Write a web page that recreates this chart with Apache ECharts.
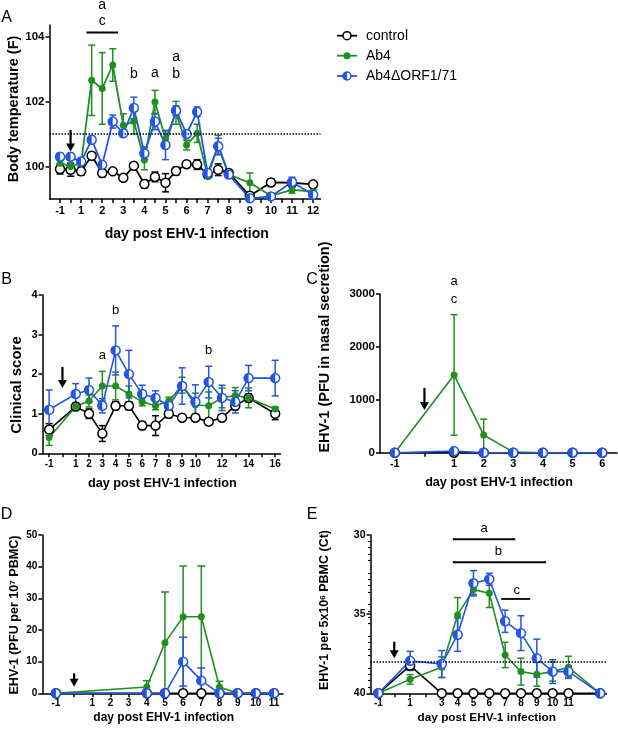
<!DOCTYPE html>
<html>
<head>
<meta charset="utf-8">
<script src="https://cdn.jsdelivr.net/npm/echarts@6/dist/echarts.min.js"></script>
<style>
html, body { margin: 0; padding: 0; background: #fff; }
#chart { width: 618px; height: 731px; }
</style>
</head>
<body>
<div id="chart"></div>
<script>
// ---- panel A : body temperature (twice daily until day 8) ----
var daysA = [-1, 0, 1, 1.5, 2, 2.5, 3, 3.5, 4, 4.5, 5, 5.5, 6, 6.5, 7, 7.5, 8, 9, 10, 11, 12];
var ctrlA = [99.92, 99.9, 99.85, 100.33, 99.8, 99.85, 99.65, 100.02, 99.46, 99.68, 99.5, 99.86, 100.07, 100.06, 99.75, 99.9, 99.8, 99.1, 99.51, 99.5, 99.45];
var ctrlErrA = [0.15, 0.2, 0.12, 0.1, 0.12, 0.08, 0.05, 0.08, 0.12, 0.15, 0.28, 0.12, 0.06, 0.15, 0.1, 0.18, 0.08, 0.1, 0.1, 0.06, 0.05];
var ab4A = [100.1, 100.0, 100.1, 102.65, 102.4, 103.12, 101.27, 101.38, 100.2, 101.98, 100.85, 101.65, 100.66, 101.02, 99.7, 100.66, 99.75, 99.5, 99.1, 99.28, 99.23];
var ab4ErrA = [0.1, 0.2, 0.1, 1.08, 1.1, 0.5, 0.35, 0.38, 0.3, 0.36, 0.25, 0.35, 0.15, 0.28, 0.05, 0.3, 0.1, 0.3, 0.05, 0.1, 0.06];
var orfA = [100.3, 100.3, 100.15, 100.82, 100.05, 101.38, 101.02, 101.8, 100.4, 101.38, 100.66, 101.72, 101.0, 101.68, 99.8, 100.62, 99.75, 99.02, 99.08, 99.52, 99.13];
var orfErrA = [0.1, 0.1, 0.1, 0.1, 0.05, 0.2, 0.1, 0.33, 0.2, 0.25, 0.45, 0.15, 0.1, 0.15, 0.05, 0.25, 0.05, 0.05, 0.05, 0.15, 0.05];
var tickDaysA = [-1, 0, 1, 1.5, 2, 2.5, 3, 3.5, 4, 4.5, 5, 5.5, 6, 6.5, 7, 7.5, 8, 8.5, 9, 9.5, 10, 10.5, 11, 11.5, 12];
var labelDaysA = [-1, 1, 2, 3, 4, 5, 6, 7, 8, 9, 10, 11, 12];
var yTicksA = [100, 102, 104];

// ---- panel B : clinical score ----
var daysB = [-1, 1, 2, 3, 4, 5, 6, 7, 8, 9, 10, 11, 12, 13, 14, 16];
var ctrlB = [0.6, 1.18, 1.0, 0.5, 1.2, 1.2, 0.7, 0.7, 1.0, 0.9, 0.9, 0.8, 0.9, 1.2, 1.4, 1.0];
var ctrlErrB = [0.15, 0.08, 0.12, 0.2, 0.1, 0.1, 0.1, 0.25, 0.1, 0.07, 0.08, 0.08, 0.07, 0.1, 0.1, 0.15];
var ab4B = [0.4, 1.18, 1.32, 1.7, 1.7, 1.5, 1.3, 1.2, 1.32, 1.72, 1.22, 1.2, 1.4, 1.46, 1.4, 1.12];
var ab4ErrB = [0.2, 0.1, 0.15, 0.37, 0.35, 0.2, 0.1, 0.1, 0.1, 0.2, 0.3, 0.35, 0.25, 0.2, 0.25, 0.05];
var orfB = [1.1, 1.5, 1.6, 1.2, 2.6, 2.0, 1.5, 1.4, 1.2, 1.7, 1.3, 1.8, 1.4, 1.3, 1.9, 1.9];
var orfErrB = [0.5, 0.26, 0.3, 0.18, 0.62, 0.6, 0.22, 0.18, 0.1, 0.46, 0.43, 0.4, 0.32, 0.28, 0.32, 0.45];
var xTicksB = [-1, 0, 1, 2, 3, 4, 5, 6, 7, 8, 9, 10, 11, 12, 13, 14, 15, 16];
var xLabelsB = [-1, 1, 2, 3, 4, 5, 6, 7, 8, 9, 10, 12, 14, 16];
var yTicksB = [0, 1, 2, 3, 4];

// ---- panel C : virus in nasal secretion ----
var daysC = [-1, 1, 2, 3, 4, 5, 6];
var ctrlC = [0, 0, 0, 0, 0, 0, 0];
var ctrlErrC = [0, 0, 0, 0, 0, 0, 0];
var ab4C = [0, 1470, 335, 10, 0, 0, 0];
var ab4ErrC = [0, 1140, 300, 0, 0, 0, 0];
var orfC = [0, 30, 0, 0, 0, 0, 0];
var orfErrC = [0, 0, 0, 0, 0, 0, 0];
var xTicksC = [-1, 0, 1, 2, 3, 4, 5, 6];
var xLabelsC = [-1, 1, 2, 3, 4, 5, 6];
var yTicksC = [0, 1000, 2000, 3000];

// ---- panel D : virus in PBMC (PFU) ----
var daysD = [-1, 4, 5, 6, 7, 8, 9, 10, 11];
var ctrlD = [0, 0, 0, 0, 0, 0, 0, 0, 0];
var ctrlErrD = [0, 0, 0, 0, 0, 0, 0, 0, 0];
var ab4D = [0, 2, 16, 24.2, 24.2, 2, 0, 0, 0];
var ab4UpD = [0, 2, 16, 16, 16, 1.8, 0, 0, 0];
var ab4DownD = [0, 2, 16, 24.2, 24.2, 1.8, 0, 0, 0];
var orfD = [0, 0, 0, 10, 4, 0, 0, 0, 0];
var orfErrD = [0, 0, 0, 7.7, 4, 0, 0, 0, 0];
var xTicksD = [-1, 0, 1, 2, 3, 4, 5, 6, 7, 8, 9, 10, 11];
var xLabelsD = [-1, 1, 2, 3, 4, 5, 6, 7, 8, 9, 10, 11];
var yTicksD = [0, 10, 20, 30, 40, 50];

// ---- panel E : virus in PBMC (Ct) ----
var daysE = [-1, 1, 3, 4, 5, 6, 7, 8, 9, 10, 11, 13];
var ctrlE = [40, 38.25, 40, 40, 40, 40, 40, 40, 40, 40, 40, 40];
var ctrlErrE = [0, 0.3, 0, 0, 0, 0, 0, 0, 0, 0, 0, 0];
var ab4E = [40, 39.12, 38.35, 35.05, 33.45, 33.68, 37.58, 38.63, 38.8, 38.63, 38.36, 40];
var ab4ErrE = [0, 0.3, 0.65, 1.1, 0.3, 0.9, 0.8, 0.85, 0.75, 0.6, 0.7, 0];
var orfE = [40, 37.95, 38.15, 36.3, 33.05, 32.8, 35.45, 36.2, 37.78, 38.63, 38.63, 40];
var orfErrE = [0, 0.6, 0.85, 1.05, 0.8, 0.38, 0.7, 1.1, 1.2, 0.75, 0.35, 0];
var xTicksE = [-1, 0, 1, 2, 3, 4, 5, 6, 7, 8, 9, 10, 11];
var xLabelsE = [-1, 1, 3, 4, 5, 6, 7, 8, 9, 10, 11];
var yTicksE = [30, 35, 40];

// ---- annotations (letters, bars, infection arrows) in axis units ----
var lettersA = [['a', 2, 104.96], ['c', 2, 104.48], ['b', 3.5, 102.84], ['a', 4.5, 102.88], ['a', 5.5, 103.37], ['b', 5.5, 102.84]];
var barsA = [[1.25, 2.75, 104.12]];
var lettersB = [['a', 3, 2.48], ['b', 4, 3.62], ['b', 11, 2.59]];
var lettersC = [['a', 1, 3233], ['c', 1, 2892]];
var lettersE = [['a', 5.68, 29.58], ['b', 6.58, 31.05], ['c', 7.74, 33.47]];
var barsE = [[3.7, 7.64, 30.27], [3.7, 9.59, 31.72], [6.75, 8.58, 34.04]];
var arrowA = [0, 101.12, 100.46];
var arrowB = [0, 2.18, 1.65];
var arrowC = [0, 1225, 808];
var arrowD = [0, 6.3, 2.1];
var arrowE = [0, 36.74, 37.79];

var BLACK = '#000', GREEN = '#1f8f1f', BLUE = '#2454e6';
var FONT = '"Liberation Sans", Arial, Helvetica, sans-serif';

// panel A uses half-day slots up to day 8, whole days after
function posA(d) { return d <= 1 ? d + 1 : 2 * d; }
var labelOfSlotA = {};
labelDaysA.forEach(function (d) { labelOfSlotA[posA(d)] = String(d); });

var grids = [
    {left: 49.5, top: 25, width: 271, height: 174},
    {left: 42.5, top: 295, width: 238, height: 158.3},
    {left: 380, top: 294, width: 237, height: 158.7},
    {left: 42.3, top: 535, width: 240.8, height: 158.3},
    {left: 370.5, top: 535, width: 236, height: 158.3}
];
grids.forEach(function (g) { g.containLabel = false; g.outerBoundsMode = 'none'; });

function plain(v) { return String(v); }

function axis(dim, gi, min, max, ticks, labels, fs, extra) {
    var a = {
        type: 'value', gridIndex: gi, min: min, max: max,
        axisLine: {show: true, onZero: false, lineStyle: {color: BLACK, width: 1.5}},
        axisTick: {show: true, length: 4, lineStyle: {color: BLACK, width: 1.5}, customValues: ticks},
        axisLabel: {customValues: labels, formatter: plain, color: BLACK, fontFamily: FONT, fontWeight: 'bold', fontSize: fs, margin: dim === 'x' ? 6 : 5},
        splitLine: {show: false}
    };
    if (extra) {
        for (var k in extra) {
            if (k === 'axisLabel') { for (var j in extra[k]) a.axisLabel[j] = extra[k][j]; }
            else a[k] = extra[k];
        }
    }
    return a;
}

var xAxes = [
    axis('x', 0, -1, 24.7, tickDaysA.map(posA), labelDaysA.map(posA), 11,
        {axisLabel: {formatter: function (v) { return labelOfSlotA[v] || ''; }}}),
    axis('x', 1, -1.5, 16.4, xTicksB, xLabelsB, 10),
    axis('x', 2, -1.5, 6.5, xTicksC, xLabelsC, 11),
    axis('x', 3, -1.75, 11.5, xTicksD, xLabelsD, 10, {axisLabel: {margin: 5}}),
    axis('x', 4, -1.5, 13.4, xTicksE, xLabelsE, 10, {axisLabel: {margin: 5}})
];
var yAxes = [
    axis('y', 0, 99, 104.35, yTicksA, yTicksA, 11.5),
    axis('y', 1, 0, 4, yTicksB, yTicksB, 11),
    axis('y', 2, 0, 3000, yTicksC, yTicksC, 11.5),
    axis('y', 3, 0, 50, yTicksD, yTicksD, 10),
    axis('y', 4, 30, 40, yTicksE, yTicksE, 10.5,
        {inverse: true, minorTick: {show: true, splitNumber: 5, length: 2.5, lineStyle: {color: BLACK, width: 1.2}}})
];

var series = [];

function errorBars(gi, xs, ys, up, dn, color, cap) {
    series.push({
        type: 'custom', xAxisIndex: gi, yAxisIndex: gi, silent: true, animation: false,
        encode: {x: 0, y: [1, 2]},
        data: xs.map(function (x, i) { return [x, ys[i] - dn[i], ys[i] + up[i]]; }),
        renderItem: function (params, api) {
            var lo = api.value(1), hi = api.value(2);
            if (!(hi - lo > 0)) return {type: 'group', children: []};
            var a = api.coord([api.value(0), hi]), b = api.coord([api.value(0), lo]);
            var h = cap / 2, st = {stroke: color, lineWidth: 1.5};
            return {type: 'group', children: [
                {type: 'line', shape: {x1: a[0], y1: a[1], x2: b[0], y2: b[1]}, style: st},
                {type: 'line', shape: {x1: a[0] - h, y1: a[1], x2: a[0] + h, y2: a[1]}, style: st},
                {type: 'line', shape: {x1: b[0] - h, y1: b[1], x2: b[0] + h, y2: b[1]}, style: st}
            ]};
        }
    });
}

function group(gi, xs, ys, up, dn, kind, lw, cap) {
    var color = kind === 'ctrl' ? BLACK : kind === 'ab4' ? GREEN : BLUE;
    errorBars(gi, xs, ys, up, dn, color, cap);
    var pts = xs.map(function (x, i) { return [x, ys[i]]; });
    series.push({
        type: 'line', xAxisIndex: gi, yAxisIndex: gi, silent: true, animation: false,
        data: pts, symbol: 'circle', symbolSize: kind === 'ab4' ? 7 : 9, showAllSymbol: true,
        lineStyle: {color: color, width: lw},
        itemStyle: {color: kind === 'ab4' ? color : '#fff', borderColor: color, borderWidth: kind === 'ab4' ? 0 : 1.5},
        emphasis: {disabled: true}
    });
    if (kind === 'orf') {
        // left half of the marker filled
        series.push({
            type: 'custom', xAxisIndex: gi, yAxisIndex: gi, silent: true, animation: false, z: 5,
            data: pts,
            renderItem: function (params, api) {
                var c = api.coord([api.value(0), api.value(1)]);
                return {type: 'sector', shape: {cx: c[0], cy: c[1], r0: 0, r: 4.5, startAngle: Math.PI / 2, endAngle: Math.PI * 1.5, clockwise: true},
                    style: {fill: color}};
            }
        });
    }
}

function letters(gi, list, mapX, fs) {
    series.push({
        type: 'custom', xAxisIndex: gi, yAxisIndex: gi, silent: true, animation: false,
        data: list.map(function (l) { return [mapX(l[1]), l[2]]; }),
        renderItem: function (params, api) {
            var c = api.coord([api.value(0), api.value(1)]);
            return {type: 'text', x: c[0], y: c[1], style: {
                text: list[params.dataIndex][0], font: fs + 'px ' + FONT, fill: BLACK, align: 'center', verticalAlign: 'middle'}};
        }
    });
}

function hbars(gi, list, mapX) {
    series.push({
        type: 'custom', xAxisIndex: gi, yAxisIndex: gi, silent: true, animation: false,
        data: list.map(function (b) { return [mapX(b[0]), mapX(b[1]), b[2]]; }),
        renderItem: function (params, api) {
            var a = api.coord([api.value(0), api.value(2)]), b = api.coord([api.value(1), api.value(2)]);
            return {type: 'line', shape: {x1: a[0], y1: a[1], x2: b[0], y2: b[1]}, style: {stroke: BLACK, lineWidth: 1.8}};
        }
    });
}

function arrow(gi, ar, mapX) {
    series.push({
        type: 'custom', xAxisIndex: gi, yAxisIndex: gi, silent: true, animation: false,
        data: [[mapX(ar[0]), ar[1], ar[2]]],
        renderItem: function (params, api) {
            var t = api.coord([api.value(0), api.value(1)]), b = api.coord([api.value(0), api.value(2)]);
            var hh = 8, hw = 4.5;
            return {type: 'group', children: [
                {type: 'line', shape: {x1: t[0], y1: t[1], x2: b[0], y2: b[1] - hh + 1}, style: {stroke: BLACK, lineWidth: 2.2}},
                {type: 'polygon', shape: {points: [[b[0] - hw, b[1] - hh], [b[0] + hw, b[1] - hh], [b[0], b[1]]]}, style: {fill: BLACK}}
            ]};
        }
    });
}

function same(x) { return x; }

// A
var xsA = daysA.map(posA);
group(0, xsA, ctrlA, ctrlErrA, ctrlErrA, 'ctrl', 1.8, 7);
group(0, xsA, ab4A, ab4ErrA, ab4ErrA, 'ab4', 1.8, 7);
group(0, xsA, orfA, orfErrA, orfErrA, 'orf', 1.8, 7);
series[series.length - 2].markLine = {
    silent: true, symbol: ['none', 'none'], label: {show: false}, animation: false,
    lineStyle: {type: 'dotted', color: BLACK, width: 1.5}, data: [{yAxis: 101}]
};
letters(0, lettersA, posA, 14);
hbars(0, barsA, posA);
arrow(0, arrowA, posA);

// B
group(1, daysB, ctrlB, ctrlErrB, ctrlErrB, 'ctrl', 1.6, 7);
group(1, daysB, ab4B, ab4ErrB, ab4ErrB, 'ab4', 1.6, 7);
group(1, daysB, orfB, orfErrB, orfErrB, 'orf', 1.6, 7);
letters(1, lettersB, same, 13);
arrow(1, arrowB, same);

// C
group(2, daysC, ctrlC, ctrlErrC, ctrlErrC, 'ctrl', 1.6, 7);
group(2, daysC, ab4C, ab4ErrC, ab4ErrC, 'ab4', 1.6, 7);
group(2, daysC, orfC, orfErrC, orfErrC, 'orf', 1.6, 7);
letters(2, lettersC, same, 13);
arrow(2, arrowC, same);

// D
group(3, daysD, ctrlD, ctrlErrD, ctrlErrD, 'ctrl', 1.6, 8);
group(3, daysD, ab4D, ab4UpD, ab4DownD, 'ab4', 1.6, 8);
group(3, daysD, orfD, orfErrD, orfErrD, 'orf', 1.6, 8);
arrow(3, arrowD, same);

// E
group(4, daysE, ctrlE, ctrlErrE, ctrlErrE, 'ctrl', 1.6, 7);
group(4, daysE, ab4E, ab4ErrE, ab4ErrE, 'ab4', 1.6, 7);
group(4, daysE, orfE, orfErrE, orfErrE, 'orf', 1.6, 7);
series[series.length - 2].markLine = {
    silent: true, symbol: ['none', 'none'], label: {show: false}, animation: false,
    lineStyle: {type: 'dotted', color: BLACK, width: 1.5}, data: [{yAxis: 38}]
};
letters(4, lettersE, same, 13);
hbars(4, barsE, same);
arrow(4, arrowE, same);

// titles, panel letters, legend
function txt(s, x, y, fs, bold, rot, rich) {
    var o = {type: 'text', x: x, y: y, rotation: rot ? Math.PI / 2 : 0, silent: true,
        style: {text: s, font: (bold ? 'bold ' : '') + fs + 'px ' + FONT, fill: BLACK, align: 'center', verticalAlign: 'middle'}};
    if (rich) o.style.rich = rich;
    return o;
}
var supRich = {sup: {fontSize: 8, fontWeight: 'bold', fontFamily: FONT, verticalAlign: 'top', lineHeight: 10}};
var graphics = [
    txt('A', 6.5, 18, 16, false), txt('B', 6.5, 280, 16, false), txt('C', 312, 280, 16, false),
    txt('D', 6.5, 515, 16, false), txt('E', 312, 515, 16, false),
    txt('Body temperature (F)', 13.5, 109, 14.5, true, true),
    txt('day post EHV-1 infection', 186.7, 234, 14, true),
    txt('Clinical score', 16.5, 385, 15, true, true),
    txt('day post EHV-1 infection', 162.3, 483, 12.7, true),
    txt('EHV-1 (PFU in nasal secretion)', 325, 347, 14.5, true, true),
    txt('day post EHV-1 infection', 499, 483, 12.6, true),
    txt('EHV-1 (PFU per 10{sup|7} PBMC)', 15, 615, 12.6, true, true, supRich),
    txt('day post EHV-1 infection', 163.7, 718, 12, true),
    txt('EHV-1 per 5x10{sup|6} PBMC (Ct)', 325, 610, 12.5, true, true, supRich),
    txt('day post EHV-1 infection', 486.7, 718, 11.8, true)
];
var legendNames = ['control', 'Ab4', 'Ab4ΔORF1/71'];
var legendColors = [BLACK, GREEN, BLUE];
var legendY = [35.7, 55.7, 76];
legendNames.forEach(function (n, i) {
    var y = legendY[i], c = legendColors[i];
    graphics.push({type: 'line', silent: true, shape: {x1: 337, y1: y, x2: 357, y2: y}, style: {stroke: c, lineWidth: 1.8}});
    if (i === 1) {
        graphics.push({type: 'circle', silent: true, shape: {cx: 347, cy: y, r: 3.5}, style: {fill: c}});
    } else {
        graphics.push({type: 'circle', silent: true, shape: {cx: 347, cy: y, r: 4}, style: {fill: '#fff', stroke: c, lineWidth: 1.5}});
        if (i === 2) graphics.push({type: 'sector', silent: true, shape: {cx: 347, cy: y, r0: 0, r: 4, startAngle: Math.PI / 2, endAngle: Math.PI * 1.5, clockwise: true}, style: {fill: c}});
    }
    graphics.push({type: 'text', x: 366, y: y, silent: true,
        style: {text: n, font: '14px ' + FONT, fill: BLACK, align: 'left', verticalAlign: 'middle'}});
});

var chart = echarts.init(document.getElementById('chart'), null, {renderer: 'canvas'});
chart.setOption({
    animation: false,
    backgroundColor: '#fff',
    grid: grids,
    xAxis: xAxes,
    yAxis: yAxes,
    series: series,
    graphic: graphics
});
</script>
</body>
</html>
